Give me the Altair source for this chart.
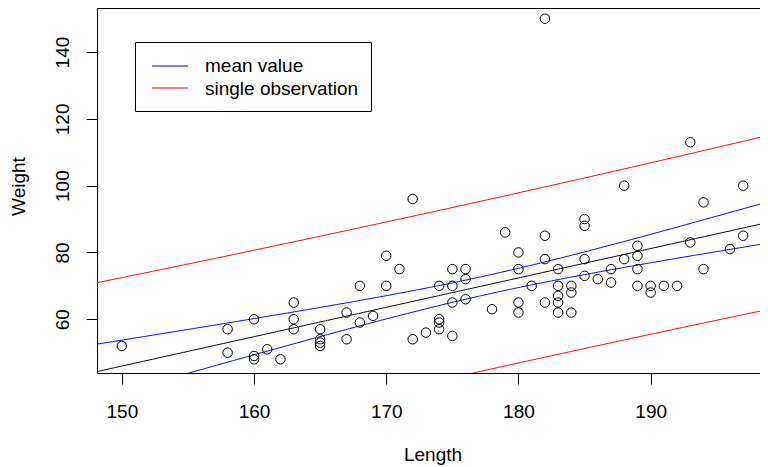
import altair as alt
import numpy as np
import pandas as pd

# ---- data ----
length = [150, 158, 158, 160, 160, 160, 161, 162, 163, 163, 163, 165, 165, 165, 165,
          167, 167, 168, 168, 169, 170, 170, 171, 172, 172, 173, 174, 174, 174, 174,
          175, 175, 175, 175, 176, 176, 176, 178, 179, 180, 180, 180, 180, 181,
          182, 182, 182, 182, 183, 183, 183, 183, 183, 184, 184, 184, 185, 185, 185, 185,
          186, 187, 187, 188, 188, 189, 189, 189, 189, 190, 190, 191, 192, 193, 193,
          194, 194, 196, 197, 197]
weight = [52, 57, 50, 60, 49, 48, 51, 48, 65, 60, 57, 57, 54, 53, 52,
          62, 54, 70, 59, 61, 79, 70, 75, 96, 54, 56, 70, 60, 59, 57,
          75, 70, 65, 55, 75, 72, 66, 63, 86, 80, 75, 65, 62, 70,
          150, 85, 78, 65, 75, 70, 67, 65, 62, 70, 68, 62, 90, 88, 78, 73,
          72, 75, 71, 100, 78, 82, 79, 75, 70, 70, 68, 70, 70, 113, 83,
          95, 75, 81, 100, 85]
band_names = ["mean value", "single observation"]
band_colors = ["blue", "red"]
x_ticks = [150, 160, 170, 180, 190]
y_ticks = [60, 80, 100, 120, 140]

W, H = 663, 365
X_DOMAIN = [148.12, 148.12 + W / 13.22]
Y_DOMAIN = [43.9, 153.2]
FONT = "Liberation Sans"
FS = 19

points = pd.DataFrame({"Length": length, "Weight": weight})

# ---- linear model with confidence / prediction bands ----
xa = np.array(length, float)
ya = np.array(weight, float)
n = len(xa)
b1, b0 = np.polyfit(xa, ya, 1)
s = np.sqrt(((ya - (b0 + b1 * xa)) ** 2).sum() / (n - 2))
xm = xa.mean()
sxx = ((xa - xm) ** 2).sum()
tq = 1.990
grid = np.linspace(X_DOMAIN[0], X_DOMAIN[1], 300)
fit = b0 + b1 * grid
se_m = s * np.sqrt(1 / n + (grid - xm) ** 2 / sxx)
se_p = s * np.sqrt(1 + 1 / n + (grid - xm) ** 2 / sxx)

fit_df = pd.DataFrame({"Length": grid, "Weight": fit})
rows = []
for name, se in zip(band_names, [se_m, se_p]):
    for side, sign in [("lwr", -1), ("upr", 1)]:
        rows.append(pd.DataFrame({"Length": grid, "Weight": fit + sign * tq * se,
                                  "band": name, "series": name + side}))
bands = pd.concat(rows, ignore_index=True)

xscale = alt.Scale(domain=X_DOMAIN, nice=False, zero=False)
yscale = alt.Scale(domain=Y_DOMAIN, nice=False, zero=False)

xaxis = alt.Axis(values=x_ticks, title="Length", grid=False, tickSize=11,
                 labelBaseline="alphabetic", labelPadding=33, labelFlush=False,
                 titleX=335.5, titleY=87, titleBaseline="alphabetic", titleAlign="center")
yaxis = alt.Axis(values=y_ticks, title="Weight", grid=False, tickSize=11,
                 labelAngle=-90, labelAlign="center", labelBaseline="alphabetic",
                 labelPadding=18, labelFlush=False,
                 titleAngle=-90, titleX=-73, titleY=178, titleBaseline="alphabetic",
                 titleAlign="center")

pts = alt.Chart(points).mark_point(shape="circle", filled=False, color="black",
                                   size=90, strokeWidth=1, opacity=1).encode(
    x=alt.X("Length:Q", scale=xscale, axis=xaxis),
    y=alt.Y("Weight:Q", scale=yscale, axis=yaxis),
)

fit_line = alt.Chart(fit_df).mark_line(color="black", strokeWidth=1, clip=True).encode(
    x=alt.X("Length:Q", scale=xscale),
    y=alt.Y("Weight:Q", scale=yscale),
)

band_lines = alt.Chart(bands).mark_line(strokeWidth=1, clip=True).encode(
    x=alt.X("Length:Q", scale=xscale),
    y=alt.Y("Weight:Q", scale=yscale),
    color=alt.Color("band:N", scale=alt.Scale(domain=band_names, range=band_colors),
                    legend=None),
    detail="series:N",
)

top_rule = alt.Chart(pd.DataFrame({"k": [0]})).mark_rule(stroke="black", strokeWidth=1).encode(
    x=alt.value(0), x2=alt.value(W), y=alt.value(0.5)
)

# ---- legend box (drawn by hand, like R's legend()) ----
leg_box = alt.Chart(pd.DataFrame({"b": [1]})).mark_rect(
    fill="white", stroke="black", strokeWidth=1).encode(
    x=alt.value(38.5), x2=alt.value(274.5), y=alt.value(34.5), y2=alt.value(103.5)
)
leg_layers = [leg_box]
for i, (name, col) in enumerate(zip(band_names, band_colors)):
    yy = 57.7 + i * 22.6
    leg_layers.append(alt.Chart(pd.DataFrame({"sym": [name]})).mark_rect(
        fill=col, stroke=None).encode(
        x=alt.value(55), x2=alt.value(91), y=alt.value(round(yy) - 0.5),
        y2=alt.value(round(yy) + 0.5)))
    leg_layers.append(alt.Chart(pd.DataFrame({"t": [name]})).mark_text(
        align="left", baseline="alphabetic", font=FONT, fontSize=FS, color="black").encode(
        text="t:N", x=alt.value(108), y=alt.value(yy + 6.3)))

chart = alt.layer(band_lines, fit_line, pts, top_rule, *leg_layers).properties(
    width=W, height=H,
    autosize=alt.AutoSizeParams(type="none"),
    padding={"left": 89, "top": 0, "right": 0, "bottom": 94},
).configure_view(stroke=None).configure_axis(
    domainColor="black", tickColor="black", labelColor="black", titleColor="black",
    labelFont=FONT, titleFont=FONT, labelFontSize=FS, titleFontSize=FS,
    titleFontWeight="normal", domainWidth=1, tickWidth=1,
)

chart.save("out.html", embed_options={"renderer": "svg", "actions": False})
